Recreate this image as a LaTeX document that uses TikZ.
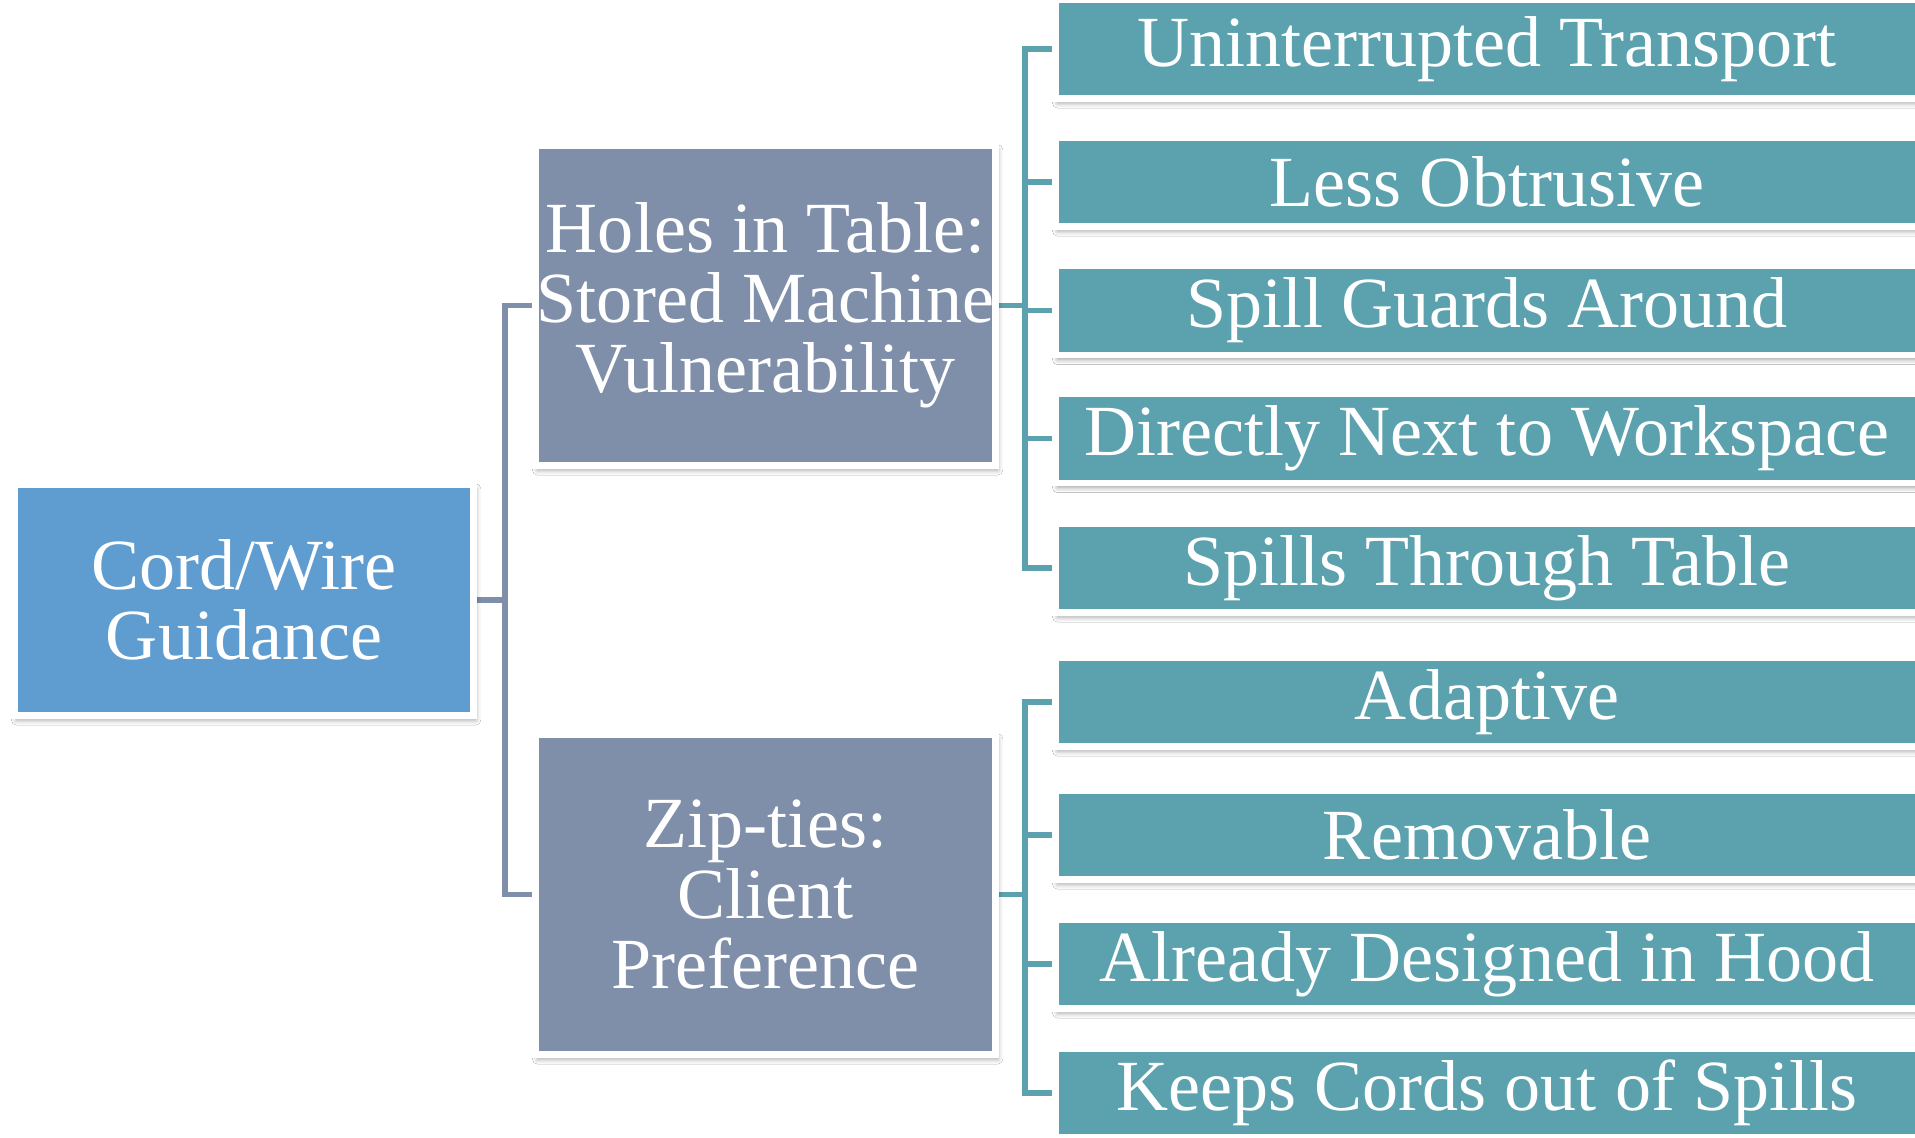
\documentclass[tikz,border=0pt]{standalone}
\usepackage{fontspec}
\setmainfont{Liberation Serif}
\usetikzlibrary{shadows.blur,backgrounds}
\definecolor{rootblue}{HTML}{5F9CD0}
\definecolor{midgray}{HTML}{7F8EA9}
\definecolor{leafteal}{HTML}{5BA2AE}
\tikzset{
  box/.style={draw=white, line width=3.97pt, text=white, align=center, inner sep=0pt,
    font=\fontsize{41}{40}\selectfont,
    blur shadow={shadow xshift=1.2pt, shadow yshift=-2.5pt, shadow blur radius=3pt, shadow opacity=40}},
  rootbox/.style={box, fill=rootblue, minimum width=9.18cm, minimum height=4.62cm},
  midbox/.style={box, fill=midgray, minimum width=9.2cm, minimum height=6.4cm},
  leafbox/.style={box, fill=leafteal, minimum width=17.26cm, minimum height=1.78cm},
  conna/.style={draw=midgray, line width=3pt},
  connb/.style={draw=leafteal, line width=3pt},
}
\begin{document}
\begin{tikzpicture}[x=0.02cm, y=-0.02cm]
\useasboundingbox (0,0) rectangle (1915,1138);
\clip (0,0) rectangle (1915,1138);

\node[rootbox] (root) at (244,600) {Cord/Wire\\Guidance};
\node[midbox] (mid1) at (765.5,305.5) {Holes in Table:\\Stored Machine\\Vulnerability};
\node[midbox] (mid2) at (765.5,894.5) {Zip-ties:\\Client\\Preference};

\node[leafbox, minimum height=1.98cm] (l1) at (1487,49) {Uninterrupted Transport};
\node[leafbox] (l2) at (1487,182) {Less Obtrusive};
\node[leafbox] (l3) at (1487,310.5) {Spill Guards Around};
\node[leafbox] (l4) at (1487,438.5) {Directly Next to Workspace};
\node[leafbox] (l5) at (1487,568) {Spills Through Table};
\node[leafbox] (l6) at (1487,702) {Adaptive};
\node[leafbox] (l7) at (1487,835) {Removable};
\node[leafbox] (l8) at (1487,964) {Already Designed in Hood};
\node[leafbox] (l9) at (1487,1093) {Keeps Cords out of Spills};

\coordinate (ja) at (505,0);
\coordinate (jb) at (1025,0);

\begin{scope}[on background layer]
  \fill[white] (0,0) rectangle (1915,1138);
  \draw[conna] (root.east) -- (root.east -| ja) |- (mid1.west);
  \draw[conna] (root.east -| ja) |- (mid2.west);
  \draw[connb] (mid1.east) -- (mid1.east -| jb);
  \foreach \n in {l1,l2,l3,l4,l5} \draw[connb] (mid1.east -| jb) |- (\n.west);
  \draw[connb] (mid2.east) -- (mid2.east -| jb);
  \foreach \n in {l6,l7,l8,l9} \draw[connb] (mid2.east -| jb) |- (\n.west);
\end{scope}
\end{tikzpicture}
\end{document}
